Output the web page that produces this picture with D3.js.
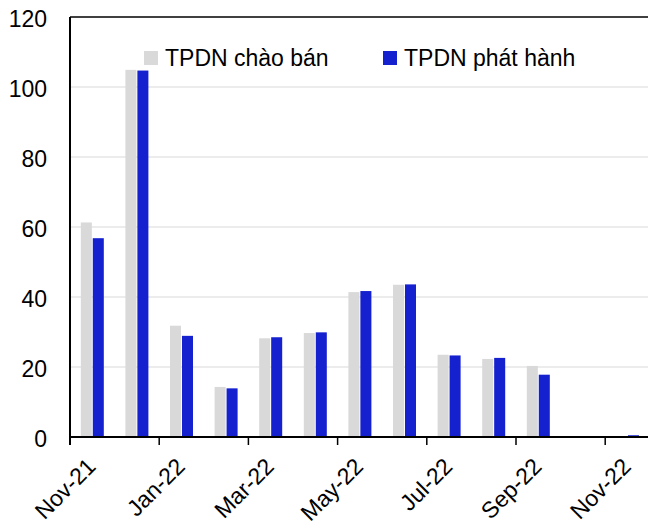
<!DOCTYPE html>
<html>
<head>
<meta charset="utf-8">
<script src="https://cdn.jsdelivr.net/npm/d3@7"></script>
<style>
  body { margin: 0; background: #fff; }
  svg text { font-family: "Liberation Sans", Arial, sans-serif; fill: #000; }
</style>
</head>
<body>
<div id="chart"></div>
<script>
// months shown on the x axis
var months = ["Nov-21", "Dec-21", "Jan-22", "Feb-22", "Mar-22", "Apr-22", "May-22",
              "Jun-22", "Jul-22", "Aug-22", "Sep-22", "Oct-22", "Nov-22"];
// only every other month gets a label
var monthLabels = ["Nov-21", "Jan-22", "Mar-22", "May-22", "Jul-22", "Sep-22", "Nov-22"];

var seriesNames = ["TPDN chào bán", "TPDN phát hành"];
var offered = [61.3, 104.9, 31.8, 14.3, 28.2, 29.7, 41.4, 43.5, 23.5, 22.3, 20.3, 0, 0];
var issued  = [56.8, 104.7, 28.9, 13.9, 28.5, 29.9, 41.7, 43.6, 23.3, 22.6, 17.8, 0.2, 0.5];
var yTicks = [0, 20, 40, 60, 80, 100, 120];

var colors = {"TPDN chào bán": "#d9d9d9", "TPDN phát hành": "#1520cf"};

var width = 648, height = 524;
var plotLeft = 70, plotTop = 17, plotBottom = 437;
var step = 44.6;

var svg = d3.select("#chart").append("svg")
    .attr("width", width)
    .attr("height", height);

var x = d3.scaleBand()
    .domain(months)
    .range([plotLeft, plotLeft + months.length * step])
    .padding(0);

var x1 = d3.scaleBand()
    .domain(seriesNames)
    .range([x.bandwidth() / 2 - 11.5, x.bandwidth() / 2 + 11.5])
    .paddingInner(0.08);

var y = d3.scaleLinear()
    .domain([0, 120])
    .range([plotBottom, plotTop]);

// gridlines
svg.append("g").selectAll("line")
    .data(yTicks.filter(function(d) { return d > 0 && d < 120; }))
    .enter().append("line")
    .attr("x1", plotLeft).attr("x2", width)
    .attr("y1", function(d) { return y(d); })
    .attr("y2", function(d) { return y(d); })
    .attr("stroke", "#e6e6e6")
    .attr("stroke-width", 1.5);

// top border line
svg.append("line")
    .attr("x1", plotLeft).attr("x2", width)
    .attr("y1", y(120)).attr("y2", y(120))
    .attr("stroke", "#000").attr("stroke-width", 1.5);

// bars
var rows = months.map(function(m, i) {
    return {month: m, values: [
        {name: seriesNames[0], value: offered[i]},
        {name: seriesNames[1], value: issued[i]}
    ]};
});

var groups = svg.append("g").selectAll("g")
    .data(rows)
    .enter().append("g")
    .attr("transform", function(d) { return "translate(" + x(d.month) + ",0)"; });

groups.selectAll("rect")
    .data(function(d) { return d.values; })
    .enter().append("rect")
    .attr("x", function(d) { return x1(d.name); })
    .attr("width", x1.bandwidth())
    .attr("y", function(d) { return y(d.value); })
    .attr("height", function(d) { return plotBottom - y(d.value); })
    .attr("fill", function(d) { return colors[d.name]; });

// y axis
var yAxis = svg.append("g")
    .attr("transform", "translate(" + plotLeft + ",0)")
    .call(d3.axisLeft(y).tickValues(yTicks).tickSize(0).tickPadding(23));
yAxis.select(".domain").remove();
yAxis.selectAll("text")
    .attr("font-size", 23)
    .attr("font-family", "Liberation Sans, Arial, sans-serif")
    .attr("dy", 9.5);

svg.append("line")
    .attr("x1", plotLeft).attr("x2", plotLeft)
    .attr("y1", plotTop).attr("y2", plotBottom + 8)
    .attr("stroke", "#000").attr("stroke-width", 2);

// x axis line and ticks
svg.append("line")
    .attr("x1", plotLeft).attr("x2", width)
    .attr("y1", plotBottom).attr("y2", plotBottom)
    .attr("stroke", "#000").attr("stroke-width", 2);

var tickMonths = months.filter(function(m) { return monthLabels.indexOf(m) >= 0; });

svg.append("g").selectAll("line")
    .data(tickMonths)
    .enter().append("line")
    .attr("x1", function(d) { return x(d); })
    .attr("x2", function(d) { return x(d); })
    .attr("y1", plotBottom).attr("y2", plotBottom + 8)
    .attr("stroke", "#000").attr("stroke-width", 1.5);

svg.append("g").selectAll("text")
    .data(tickMonths)
    .enter().append("text")
    .attr("transform", function(d) {
        return "translate(" + (x(d) + x.bandwidth() / 2 + 4.7) + "," + 468 + ") rotate(-45)";
    })
    .attr("text-anchor", "end")
    .attr("font-size", 23)
    .text(function(d) { return d; });

// legend
var legendPos = [144, 383];
var legend = svg.append("g").selectAll("g")
    .data(seriesNames)
    .enter().append("g")
    .attr("transform", function(d, i) { return "translate(" + legendPos[i] + ",51)"; });

legend.append("rect")
    .attr("width", 14).attr("height", 14)
    .attr("fill", function(d) { return colors[d]; });

legend.append("text")
    .attr("x", 21).attr("y", 15)
    .attr("font-size", 23)
    .text(function(d) { return d; });
</script>
</body>
</html>
